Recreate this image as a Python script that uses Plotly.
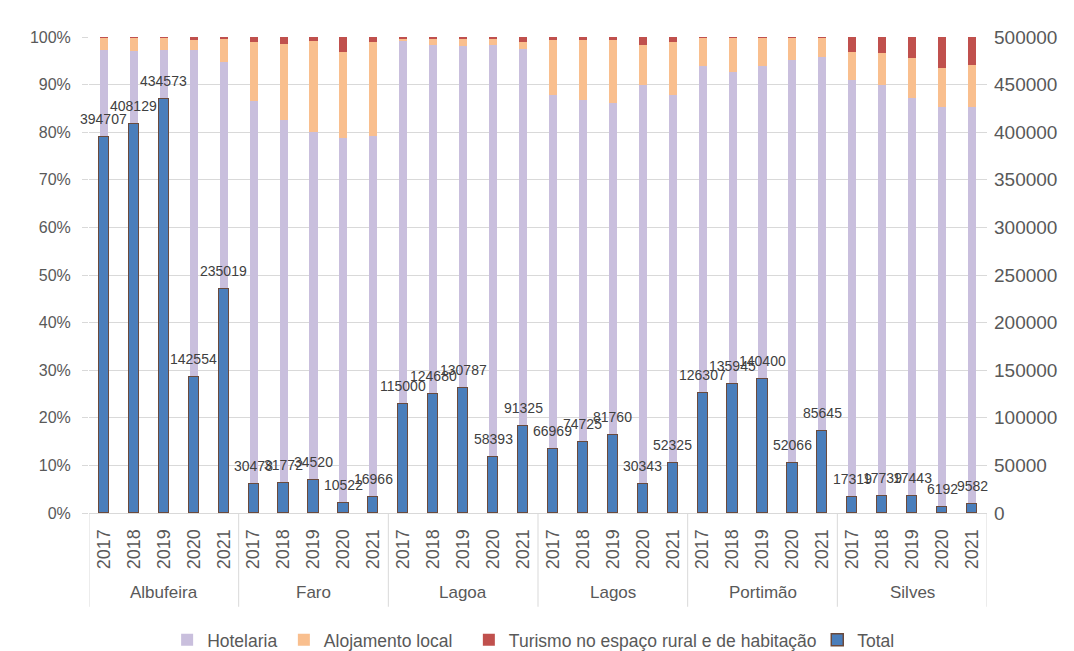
import plotly.graph_objects as go

# Municipalities and years
municipios = ["Albufeira", "Faro", "Lagoa", "Lagos", "Portimão", "Silves"]
anos = ["2017", "2018", "2019", "2020", "2021"]

# Share of each accommodation type (%), per municipality and year
hotelaria = [97.3, 97.0, 97.3, 97.2, 94.8,
             86.6, 82.6, 80.0, 78.8, 79.3,
             99.3, 98.4, 98.1, 98.3, 97.5,
             87.8, 86.8, 86.1, 89.9, 87.9,
             94.0, 92.6, 94.0, 95.2, 95.9,
             91.0, 90.0, 87.2, 85.4, 85.4]
alojamento_local = [2.65, 2.95, 2.65, 2.2, 4.8,
                    12.3, 16.0, 19.1, 18.0, 19.6,
                    0.3, 1.1, 1.4, 1.2, 1.5,
                    11.5, 12.6, 13.2, 8.4, 11.0,
                    5.8, 7.2, 5.8, 4.6, 4.0,
                    5.8, 6.6, 8.3, 8.0, 8.7]
turismo_rural = [0.05, 0.05, 0.05, 0.6, 0.4,
                 1.1, 1.4, 0.9, 3.2, 1.1,
                 0.4, 0.5, 0.5, 0.5, 1.0,
                 0.7, 0.6, 0.7, 1.7, 1.1,
                 0.2, 0.2, 0.2, 0.2, 0.1,
                 3.2, 3.4, 4.5, 6.6, 5.9]

# Total guests (right axis)
total = [394707, 408129, 434573, 142554, 235019,
         30478, 31772, 34520, 10522, 16966,
         115000, 124680, 130787, 58393, 91325,
         66969, 74725, 81760, 30343, 52325,
         126307, 135945, 140400, 52066, 85645,
         17319, 17739, 17443, 6192, 9582]

# One category per municipality/year pair; the axis shows the year,
# municipality names are written underneath each group of five.
categorias = [f"{m} {a}" for m in municipios for a in anos]
ano_nivel = [a for _ in municipios for a in anos]

GREY = "#595959"
LINE = "#d9d9d9"
FONT = "Liberation Sans, Arial, sans-serif"
NARROW = "Liberation Sans Narrow, Arial Narrow, Liberation Sans, Arial, sans-serif"

fig = go.Figure()

series = [
    ("Hotelaria", hotelaria, "#c9bfdd", "legend"),
    ("Alojamento local", alojamento_local, "#f9bf8e", "legend2"),
    ("Turismo no espaço rural e de habitação", turismo_rural, "#c0504d", "legend3"),
]
for nome, vals, cor, leg in series:
    fig.add_trace(go.Bar(
        x=categorias, y=vals, name=nome, marker=dict(color=cor, line=dict(width=0)),
        width=0.27, yaxis="y", legend=leg,
    ))

fig.add_trace(go.Bar(
    x=categorias, y=total, name="Total", yaxis="y2", width=0.34, legend="legend4",
    marker=dict(color="#4a7ebb", line=dict(color="#6b4a3c", width=1.5)),
))

# Value labels above the Total bars
for cat, v in zip(categorias, total):
    fig.add_annotation(
        x=cat, y=v, xref="x", yref="y2",
        text=str(v), showarrow=False, yanchor="bottom", yshift=8,
        font=dict(family=NARROW, size=14, color="#404040"),
    )

# Municipality names and group dividers below the year labels
n = len(anos)
for g, m in enumerate(municipios):
    fig.add_annotation(
        x=categorias[g * n + n // 2], y=-0.168, xref="x", yref="paper",
        text=m, showarrow=False, yanchor="middle",
        font=dict(family=FONT, size=17, color=GREY),
    )
for g in range(len(municipios) + 1):
    fig.add_shape(
        type="line", xref="x", yref="paper",
        x0=g * n - 0.5, x1=g * n - 0.5, y0=0, y1=-0.197,
        line=dict(color=LINE, width=1),
    )

legend_style = dict(orientation="h", yref="container", y=0.017, yanchor="middle",
                    xanchor="left", font=dict(family=FONT, size=17.5, color=GREY),
                    bgcolor="rgba(0,0,0,0)", itemwidth=30)

fig.update_layout(
    width=1074, height=651,
    margin=dict(l=89, r=87, t=37, b=138, autoexpand=False),
    paper_bgcolor="white", plot_bgcolor="white",
    barmode="stack", bargap=0.0,
    font=dict(family=FONT, size=14, color=GREY),
    showlegend=True,
    legend=dict(x=0.087, **legend_style),
    legend2=dict(x=0.217, **legend_style),
    legend3=dict(x=0.423, **legend_style),
    legend4=dict(x=0.811, **legend_style),
    xaxis=dict(
        type="category", tickangle=-90, automargin=False,
        tickmode="array", tickvals=categorias, ticktext=ano_nivel,
        range=[-0.5, len(categorias) - 0.5],
        showline=True, linecolor=LINE, linewidth=1,
        tickfont=dict(family=FONT, size=18, color=GREY),
        ticks="", ticklabelstandoff=8,
    ),
    yaxis=dict(
        range=[0, 100], dtick=10, ticksuffix="%", automargin=False,
        showgrid=True, gridcolor=LINE, gridwidth=1,
        zeroline=False, showline=False,
        tickfont=dict(family=FONT, size=16, color=GREY),
        ticks="outside", ticklen=6, tickcolor=LINE,
        ticklabelstandoff=8,
    ),
    yaxis2=dict(
        range=[0, 500000], dtick=50000, tickformat="d", automargin=False,
        overlaying="y", side="right", showgrid=False, zeroline=False,
        tickfont=dict(family=FONT, size=19, color=GREY),
        ticks="", ticklen=0, ticklabelstandoff=6,
    ),
)

fig.write_html("out.html")
